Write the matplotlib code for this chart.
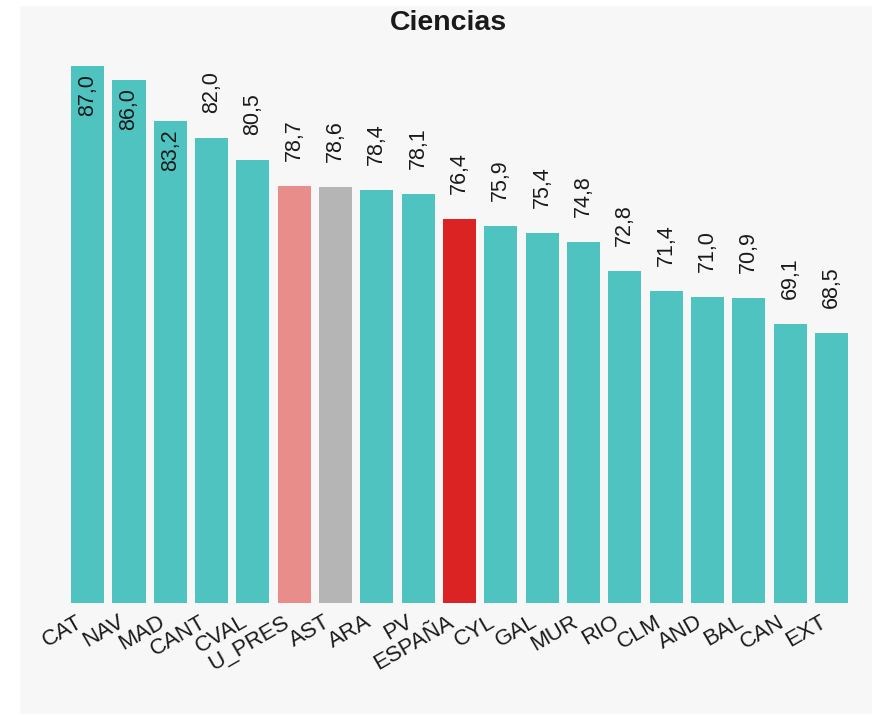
import matplotlib
matplotlib.use('agg')
import matplotlib.pyplot as plt
from matplotlib.patches import Rectangle
from matplotlib.transforms import ScaledTranslation

regions = ["CAT", "NAV", "MAD", "CANT", "CVAL", "U_PRES", "AST", "ARA", "PV", "ESPAÑA",
           "CYL", "GAL", "MUR", "RIO", "CLM", "AND", "BAL", "CAN", "EXT"]
values = [87.0, 86.0, 83.2, 82.0, 80.5, 78.7, 78.6, 78.4, 78.1, 76.4,
          75.9, 75.4, 74.8, 72.8, 71.4, 71.0, 70.9, 69.1, 68.5]
highlight = {"U_PRES": "#e98d8b", "AST": "#b5b5b5", "ESPAÑA": "#dc2323"}
inside = ["CAT", "NAV", "MAD"]

plt.rcParams['font.family'] = ['Liberation Sans', 'DejaVu Sans']

W, H = 876, 715
fig = plt.figure(figsize=(W / 100, H / 100), dpi=100)
fig.patch.set_facecolor('white')
# light gray panel behind everything
fig.add_artist(Rectangle((20 / W, 1 / H), (872 - 20) / W, (714 - 6) / H,
                         transform=fig.transFigure, facecolor='#f7f7f7',
                         edgecolor='none', zorder=0))

ax = fig.add_axes([67 / W, (H - 603) / H, (852 - 67) / W, (603 - 60) / H])
ax.set_facecolor('none')

colors = [highlight.get(r, "#4fc3c0") for r in regions]
x = range(len(regions))
bars = ax.bar(x, values, width=0.8, color=colors, bottom=0)
ax.set_ylim(49.8, 87.4)
ax.set_xlim(-0.5, len(regions) - 0.5)

for b, r, v in zip(bars, regions, values):
    lbl = f"{v:.1f}".replace('.', ',')
    cx = b.get_x() + b.get_width() / 2
    if r in inside:
        ax.annotate(lbl, (cx, v), xytext=(0, -6), textcoords='offset points',
                    rotation=90, ha='center', va='top', fontsize=15.5, color='#1a1a1a')
    else:
        ax.annotate(lbl, (cx, v), xytext=(0, 18), textcoords='offset points',
                    rotation=90, ha='center', va='bottom', fontsize=15.5, color='#1a1a1a')

ax.set_xticks(list(x))
ax.set_xticklabels(regions, rotation=30, ha='right', rotation_mode='anchor',
                   fontsize=16, color='#1a1a1a')
ax.tick_params(axis='x', length=0, pad=6)
shift = ScaledTranslation(-12 / 100, 0, fig.dpi_scale_trans)
for t in ax.get_xticklabels():
    t.set_transform(t.get_transform() + shift)
ax.set_yticks([])
for s in ax.spines.values():
    s.set_visible(False)

fig.text(448 / W, (H - 23) / H, "Ciencias", ha='center', va='center',
         fontsize=20.5, fontweight='bold', color='#1a1a1a')

plt.savefig('out.png', dpi=100)
